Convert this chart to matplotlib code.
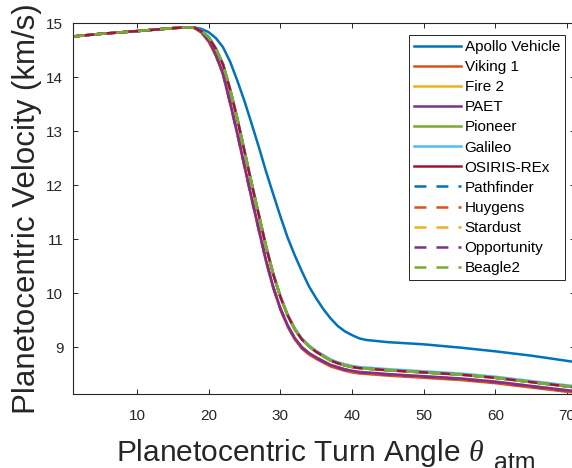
import matplotlib
matplotlib.use('Agg')
import matplotlib.pyplot as plt

plt.rcParams['font.family'] = ['Liberation Sans', 'DejaVu Sans']
plt.rcParams['mathtext.fontset'] = 'custom'
plt.rcParams['mathtext.rm'] = 'Liberation Sans'
plt.rcParams['mathtext.it'] = 'Liberation Serif:italic'
plt.rcParams['mathtext.bf'] = 'Liberation Sans:bold'
plt.rcParams['lines.scale_dashes'] = False

# ---- data ----
entry_angle = [1, 5, 10, 15, 17]
entry_velocity = [14.75, 14.80, 14.85, 14.905, 14.92]

descent_angle = [18, 19, 20, 21, 22, 23, 24, 25, 26, 27, 28, 29, 30, 31, 32,
                 33, 34, 35, 36, 37, 38, 39, 40, 41, 42, 45, 50, 55, 60, 65, 70.7]

apollo_v = [14.92, 14.89, 14.83, 14.72, 14.55, 14.28, 13.93, 13.55, 13.13, 12.70,
            12.25, 11.83, 11.42, 11.03, 10.70, 10.40, 10.12, 9.90, 9.70, 9.53,
            9.39, 9.29, 9.22, 9.16, 9.13, 9.09, 9.05, 8.99, 8.92, 8.84, 8.73]
galileo_v = [14.91, 14.86, 14.75, 14.54, 14.25, 13.78, 13.24, 12.64, 12.04, 11.46,
             10.88, 10.37, 9.95, 9.61, 9.35, 9.16, 9.03, 8.93, 8.85, 8.77,
             8.72, 8.68, 8.65, 8.63, 8.62, 8.59, 8.55, 8.51, 8.45, 8.37, 8.28]
upper_v = [14.91, 14.85, 14.73, 14.52, 14.23, 13.76, 13.22, 12.62, 12.02, 11.44,
           10.86, 10.35, 9.93, 9.59, 9.33, 9.14, 9.01, 8.91, 8.83, 8.75,
           8.70, 8.66, 8.63, 8.61, 8.60, 8.57, 8.53, 8.49, 8.43, 8.35, 8.26]
lower_v = [14.91, 14.83, 14.67, 14.41, 14.06, 13.52, 12.95, 12.35, 11.75, 11.17,
           10.60, 10.11, 9.71, 9.40, 9.16, 8.99, 8.88, 8.80, 8.73, 8.66,
           8.62, 8.58, 8.55, 8.53, 8.52, 8.49, 8.45, 8.41, 8.35, 8.27, 8.18]
paet_v = [14.91, 14.83, 14.68, 14.42, 14.07, 13.53, 12.96, 12.36, 11.76, 11.18,
          10.61, 10.12, 9.72, 9.41, 9.17, 9.00, 8.89, 8.81, 8.74, 8.67,
          8.63, 8.59, 8.56, 8.54, 8.53, 8.50, 8.46, 8.42, 8.36, 8.28, 8.19]
viking_v = [14.91, 14.82, 14.65, 14.39, 14.04, 13.50, 12.93, 12.33, 11.73, 11.15,
            10.58, 10.09, 9.69, 9.38, 9.14, 8.97, 8.86, 8.78, 8.71, 8.64,
            8.60, 8.56, 8.53, 8.51, 8.50, 8.47, 8.43, 8.39, 8.33, 8.25, 8.16]

vehicles = ['Apollo Vehicle', 'Viking 1', 'Fire 2', 'PAET', 'Pioneer', 'Galileo',
            'OSIRIS-REx', 'Pathfinder', 'Huygens', 'Stardust', 'Opportunity', 'Beagle2']
vehicle_descent = [apollo_v, viking_v, upper_v, paet_v, upper_v, galileo_v,
                   upper_v, upper_v, lower_v, upper_v, lower_v, upper_v]
colors = ['#0072BD', '#D95319', '#EDB120', '#7E2F8E', '#77AC30', '#4DBEEE',
          '#A2142F', '#0072BD', '#D95319', '#EDB120', '#7E2F8E', '#77AC30']
styles = ['-'] * 7 + ['--'] * 5

xlim = (1.07, 71.1)
ylim = (8.13, 15)
xticks = [10, 20, 30, 40, 50, 60, 70]
yticks = [9, 10, 11, 12, 13, 14, 15]

# ---- figure ----
fig = plt.figure(figsize=(5.72, 4.68), dpi=100)
ax = fig.add_axes([73 / 572, 1 - 394 / 468, (575 - 73) / 572, (394 - 23) / 468])

angle = entry_angle + descent_angle
for name, desc, col, ls in zip(vehicles, vehicle_descent, colors, styles):
    vel = entry_velocity + desc
    if ls == '--':
        ax.plot(angle, vel, color=col, lw=1.8, linestyle=(0, (8.6, 7.2)), label=name)
    else:
        ax.plot(angle, vel, color=col, lw=1.8, label=name)

ax.set_xlim(*xlim)
ax.set_ylim(*ylim)
ax.set_xticks(xticks)
ax.set_yticks(yticks)

dark = '#262626'
for sp in ax.spines.values():
    sp.set_color(dark)
    sp.set_linewidth(0.8)
ax.tick_params(axis='both', direction='in', length=3.6, width=0.7, colors=dark,
               labelsize=11, top=True, right=True)
ax.tick_params(axis='x', pad=11)
ax.tick_params(axis='y', pad=7)

# x label (MATLAB-style TeX subscript, larger than mathtext's default)
fig.text(116 / 572, 1 - 461 / 468, r'Planetocentric Turn Angle $\theta$',
         fontsize=21.5, color=dark, ha='left', va='baseline')
fig.text(494 / 572, 1 - 470 / 468, 'atm', fontsize=18, color=dark,
         ha='left', va='baseline')
ax.set_ylabel('Planetocentric Velocity (km/s)', fontsize=22.5, color=dark, labelpad=3)

leg = ax.legend(loc='upper right', bbox_to_anchor=(565 / 572, 1 - 35 / 468),
                bbox_transform=fig.transFigure, borderaxespad=0, fontsize=11,
                handlelength=3.07, handletextpad=0.22, labelspacing=0.4,
                borderpad=0.33, fancybox=False, framealpha=1, edgecolor=dark)
leg.get_frame().set_linewidth(0.7)
for t in leg.get_texts():
    t.set_color('#000000')

fig.savefig('out.png', dpi=100)
